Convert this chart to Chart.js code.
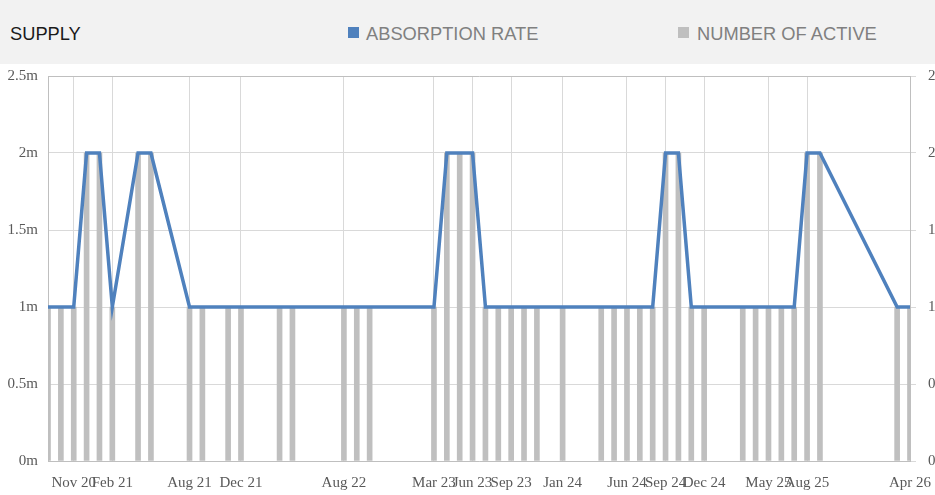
<!DOCTYPE html>
<html>
<head>
<meta charset="utf-8">
<script src="https://cdn.jsdelivr.net/npm/chart.js@4.4.1/dist/chart.umd.min.js"></script>
<style>
  body { margin: 0; width: 935px; height: 495px; overflow: hidden; background: #fff; }
  #head {
    position: absolute; left: 0; top: 0; width: 935px; height: 64px; z-index: 2;
    background: #f2f2f2; font-family: "Liberation Sans", Arial, sans-serif; font-size: 18.3px;
  }
  #head span { position: absolute; top: 23px; line-height: 21px; white-space: nowrap; }
  .sw { display: inline-block; width: 11px; height: 11px; position: absolute; top: 27px; }
  #wrap { position: absolute; left: 0; top: 55px; width: 935px; height: 440px; overflow: hidden; z-index: 1; }
</style>
</head>
<body>
<div id="head">
  <span style="left:10px; color:#1a1a1a;">SUPPLY</span>
  <i class="sw" style="left:348px; background:#4f81bd;"></i>
  <span style="left:366px; color:#808080;">ABSORPTION RATE</span>
  <i class="sw" style="left:678px; background:#bfbfbf;"></i>
  <span style="left:697px; color:#808080;">NUMBER OF ACTIVE</span>
</div>
<div id="wrap"><canvas id="chart" width="960" height="440"></canvas></div>
<script>
// monthly categories, Sep 2020 .. Apr 2026
const months = [
  'Sep 20', 'Oct 20', 'Nov 20', 'Dec 20',
  'Jan 21', 'Feb 21', 'Mar 21', 'Apr 21', 'May 21', 'Jun 21', 'Jul 21', 'Aug 21', 'Sep 21', 'Oct 21', 'Nov 21', 'Dec 21',
  'Jan 22', 'Feb 22', 'Mar 22', 'Apr 22', 'May 22', 'Jun 22', 'Jul 22', 'Aug 22', 'Sep 22', 'Oct 22', 'Nov 22', 'Dec 22',
  'Jan 23', 'Feb 23', 'Mar 23', 'Apr 23', 'May 23', 'Jun 23', 'Jul 23', 'Aug 23', 'Sep 23', 'Oct 23', 'Nov 23', 'Dec 23',
  'Jan 24', 'Feb 24', 'Mar 24', 'Apr 24', 'May 24', 'Jun 24', 'Jul 24', 'Aug 24', 'Sep 24', 'Oct 24', 'Nov 24', 'Dec 24',
  'Jan 25', 'Feb 25', 'Mar 25', 'Apr 25', 'May 25', 'Jun 25', 'Jul 25', 'Aug 25', 'Sep 25', 'Oct 25', 'Nov 25', 'Dec 25',
  'Jan 26', 'Feb 26', 'Mar 26', 'Apr 26'
];

// labels shown on the x axis
const shownLabels = ['Nov 20', 'Feb 21', 'Aug 21', 'Dec 21', 'Aug 22', 'Mar 23', 'Jun 23', 'Sep 23',
  'Jan 24', 'Jun 24', 'Sep 24', 'Dec 24', 'May 25', 'Aug 25', 'Apr 26'];

// absorption rate (m), null = no record that month
const absorptionRate = [
  1, 1, 1, 2,
  2, 1, null, 2, 2, null, null, 1, 1, null, 1, 1,
  null, null, 1, 1, null, null, null, 1, 1, 1, null, null,
  null, null, 1, 2, 2, 2, 1, 1, 1, 1, 1, null,
  1, null, null, 1, 1, 1, 1, 1, 2, 2, 1, 1,
  null, null, 1, 1, 1, 1, 1, 2, 2, null, null, null,
  null, null, 1, 1
];

// number of active
const activeCount = [
  1, 1, 1, 2,
  2, 1, null, 2, 2, null, null, 1, 1, null, 1, 1,
  null, null, 1, 1, null, null, null, 1, 1, 1, null, null,
  null, null, 1, 2, 2, 2, 1, 1, 1, 1, 1, null,
  1, null, null, 1, 1, 1, 1, 1, 2, 2, 1, 1,
  null, null, 1, 1, 1, 1, 1, 2, 2, null, null, null,
  null, null, 1, 1
];

const leftTicks = [0, 0.5, 1, 1.5, 2, 2.5];

const axisFont = { family: '"Liberation Serif", "Times New Roman", serif', size: 15 };
const axisColor = '#595959';

new Chart(document.getElementById('chart'), {
  data: {
    labels: months,
    datasets: [
      {
        type: 'line',
        label: 'ABSORPTION RATE',
        data: absorptionRate,
        borderColor: '#4f81bd',
        borderWidth: 3.5,
        pointRadius: 0,
        spanGaps: true,
        tension: 0,
        yAxisID: 'y',
        order: 0
      },
      {
        type: 'bar',
        label: 'NUMBER OF ACTIVE',
        data: activeCount,
        backgroundColor: '#bfbfbf',
        barThickness: 5,
        yAxisID: 'y1',
        order: 1
      }
    ]
  },
  options: {
    responsive: false,
    animation: false,
    layout: { padding: { top: 0, left: 0, right: 0, bottom: 0 } },
    plugins: { legend: { display: false }, tooltip: { enabled: false } },
    scales: {
      x: {
        offset: false,
        grid: {
          offset: false,
          drawTicks: false,
          color: (c) => shownLabels.includes(months[c.index]) ? '#d9d9d9' : 'rgba(0,0,0,0)'
        },
        border: { color: '#bfbfbf' },
        ticks: {
          autoSkip: false,
          maxRotation: 0,
          padding: 13,
          font: axisFont,
          color: axisColor,
          callback: (v, i) => shownLabels.includes(months[i]) ? months[i] : ''
        },
        afterFit: (s) => { s.height = 34; }
      },
      y: {
        position: 'left',
        min: 0,
        max: 2.5,
        afterBuildTicks: (s) => { s.ticks = leftTicks.map(v => ({ value: v })); },
        ticks: { padding: 10, font: axisFont, color: axisColor, callback: (v) => v + 'm' },
        grid: {
          drawTicks: false,
          color: (c) => c.tick && c.tick.value === 2.5 ? '#bfbfbf' : '#d9d9d9'
        },
        border: { color: '#bfbfbf' },
        afterFit: (s) => { s.width = 48; }
      },
      y1: {
        position: 'right',
        min: 0,
        max: 2.5,
        afterBuildTicks: (s) => { s.ticks = leftTicks.map(v => ({ value: v })); },
        ticks: { padding: 12, font: axisFont, color: axisColor },
        grid: { drawOnChartArea: false, tickLength: 6, color: '#d9d9d9' },
        border: { color: '#bfbfbf' },
        afterFit: (s) => { s.width = 50; }
      }
    }
  }
});
</script>
</body>
</html>
